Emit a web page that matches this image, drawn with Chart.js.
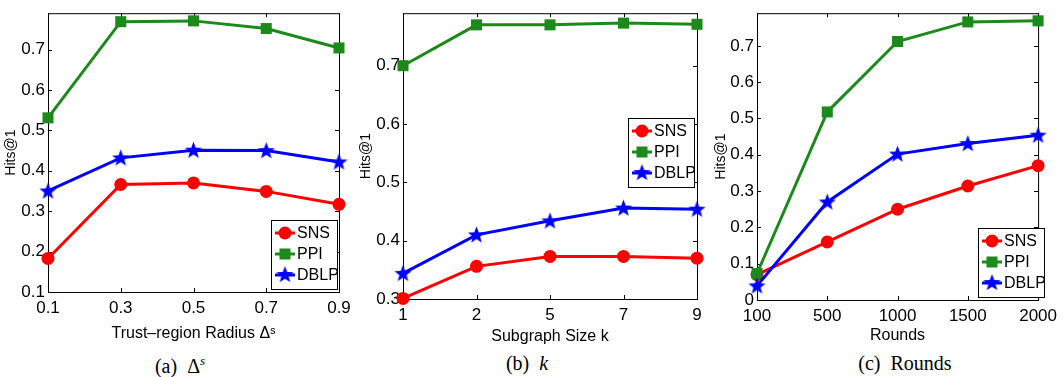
<!DOCTYPE html>
<html>
<head>
<meta charset="utf-8">
<script src="https://cdn.jsdelivr.net/npm/chart.js@4/dist/chart.umd.min.js"></script>
<style>
  body { margin: 0; background: #fff; width: 1063px; height: 377px; position: relative; overflow: hidden; }
  canvas { position: absolute; top: 0; }
  .cap { position: absolute; font-family: 'Liberation Serif', 'Times New Roman', serif; font-size: 20px; color: #000;
         transform: translateX(-50%); white-space: nowrap; }
  .cap i { font-style: italic; }
</style>
</head>
<body>
<canvas id="chartA" width="360" height="350" style="left:0"></canvas>
<canvas id="chartB" width="355" height="350" style="left:355px"></canvas>
<canvas id="chartC" width="353" height="350" style="left:710px"></canvas>
<div class="cap" style="left:180px;top:353px">(a)&nbsp; &Delta;<sup style="font-size:13px"><i>s</i></sup></div>
<div class="cap" style="left:527px;top:352px">(b)&nbsp; <i>k</i></div>
<div class="cap" style="left:905px;top:352px">(c)&nbsp; Rounds</div>
<script>
// (a) trust-region radius
const radiusLabels = ['0.1', '0.3', '0.5', '0.7', '0.9'];
const radiusSNS = [0.183, 0.366, 0.370, 0.349, 0.317];
const radiusPPI = [0.531, 0.769, 0.771, 0.752, 0.704];
const radiusDBLP = [0.350, 0.432, 0.451, 0.450, 0.422];
const radiusTicks = [0.1, 0.2, 0.3, 0.4, 0.5, 0.6, 0.7];

// (b) subgraph size k
const sizeLabels = ['1', '2', '5', '7', '9'];
const sizeSNS = [0.301, 0.356, 0.373, 0.373, 0.370];
const sizePPI = [0.700, 0.770, 0.770, 0.773, 0.771];
const sizeDBLP = [0.344, 0.410, 0.434, 0.456, 0.454];
const sizeTicks = [0.3, 0.4, 0.5, 0.6, 0.7];

// (c) rounds
const roundLabels = ['100', '500', '1000', '1500', '2000'];
const roundSNS = [0.070, 0.160, 0.250, 0.314, 0.370];
const roundPPI = [0.073, 0.518, 0.712, 0.766, 0.769];
const roundDBLP = [0.039, 0.270, 0.402, 0.431, 0.454];
const roundTicks = [0, 0.1, 0.2, 0.3, 0.4, 0.5, 0.6, 0.7];

const RED = '#ff0000';
const GREEN = '#1b8a1b';
const BLUE = '#0000ff';
const FONT = "'Liberation Sans', Arial, sans-serif";
const CANVAS_H = 350;

// filled five point star used as marker
function makeStar(color) {
  const c = document.createElement('canvas');
  c.width = 19; c.height = 19;
  const g = c.getContext('2d');
  g.beginPath();
  for (let i = 0; i < 10; i++) {
    const r = i % 2 === 0 ? 9 : 3.8;
    const a = -Math.PI / 2 + i * Math.PI / 5;
    const px = 9.5 + r * Math.cos(a), py = 10 + r * Math.sin(a);
    if (i === 0) g.moveTo(px, py); else g.lineTo(px, py);
  }
  g.closePath();
  g.fillStyle = color;
  g.fill();
  return c;
}
const starImg = makeStar(BLUE);

function series(label, data, color, style, radius, order) {
  return {
    label: label, data: data, order: order,
    borderColor: color, backgroundColor: color,
    borderWidth: 3, tension: 0, clip: false,
    pointStyle: style, pointRadius: radius,
    pointBorderWidth: 0, pointBackgroundColor: color
  };
}

// axes box with inward ticks, like MATLAB
const framePlugin = {
  id: 'frame',
  beforeDatasetsDraw(chart) {
    const { ctx, chartArea: a, scales } = chart;
    ctx.save();
    ctx.strokeStyle = '#000';
    ctx.lineWidth = 1;
    ctx.strokeRect(a.left + 0.5, a.top + 0.5, a.right - a.left, a.bottom - a.top);
    ctx.beginPath();
    scales.y.ticks.forEach(t => {
      const y = Math.round(scales.y.getPixelForValue(t.value)) + 0.5;
      ctx.moveTo(a.left, y); ctx.lineTo(a.left + 4, y);
      ctx.moveTo(a.right, y); ctx.lineTo(a.right - 4, y);
    });
    scales.x.ticks.forEach((t, i) => {
      const x = Math.round(scales.x.getPixelForTick(i)) + 0.5;
      ctx.moveTo(x, a.bottom); ctx.lineTo(x, a.bottom - 4);
      ctx.moveTo(x, a.top); ctx.lineTo(x, a.top + 4);
    });
    ctx.stroke();
    ctx.restore();
  }
};

// legend box drawn inside the plot
const boxLegend = {
  id: 'boxLegend',
  afterDraw(chart, args, opts) {
    const { ctx } = chart;
    const x = opts.x, y = opts.y, w = 66, h = 69;
    ctx.save();
    ctx.fillStyle = '#fff';
    ctx.fillRect(x, y, w, h);
    ctx.strokeStyle = '#000';
    ctx.lineWidth = 1;
    ctx.strokeRect(x + 0.5, y + 0.5, w, h);
    chart.data.datasets.forEach((ds, i) => {
      const cy = y + 13 + i * 21;
      ctx.strokeStyle = ds.borderColor;
      ctx.lineWidth = 3;
      ctx.beginPath();
      ctx.moveTo(x + 4, cy); ctx.lineTo(x + 24, cy);
      ctx.stroke();
      ctx.fillStyle = ds.borderColor;
      if (ds.pointStyle === 'circle') {
        ctx.beginPath(); ctx.arc(x + 14, cy, 6.5, 0, Math.PI * 2); ctx.fill();
      } else if (ds.pointStyle === 'rect') {
        ctx.fillRect(x + 14 - 5.5, cy - 5.5, 11, 11);
      } else {
        ctx.drawImage(ds.pointStyle, x + 14 - 9.5, cy - 10);
      }
      ctx.fillStyle = '#000';
      ctx.font = '16px ' + FONT;
      ctx.textBaseline = 'middle';
      ctx.fillText(ds.label, x + 26, cy + 1);
    });
    ctx.restore();
  }
};

function makeChart(id, cfg) {
  const tickFont = { family: FONT, size: 17 };
  return new Chart(document.getElementById(id), {
    type: 'line',
    data: {
      labels: cfg.labels,
      datasets: [
        series('SNS', cfg.sns, RED, 'circle', 6.5, 2),
        series('PPI', cfg.ppi, GREEN, 'rect', 7.8, 1),
        series('DBLP', cfg.dblp, BLUE, starImg, 9, 0)
      ]
    },
    options: {
      responsive: false,
      animation: false,
      layout: { padding: { top: 6, right: cfg.padRight, left: 0, bottom: 0 } },
      plugins: {
        legend: { display: false },
        tooltip: { enabled: false },
        boxLegend: { x: cfg.legendX, y: cfg.legendY }
      },
      scales: {
        x: {
          offset: false,
          grid: { display: false, drawTicks: false },
          border: { display: false },
          ticks: { font: tickFont, color: '#000', padding: 6, maxRotation: 0, autoSkip: false },
          title: { display: true, text: cfg.xTitle, color: '#000', font: { family: FONT, size: 16 },
                   padding: { top: 0, bottom: cfg.xTitlePad } },
          afterFit: s => { s.height = CANVAS_H - cfg.bottom; }
        },
        y: {
          min: cfg.yMin, max: 0.79,
          grid: { display: false, drawTicks: false },
          border: { display: false },
          afterBuildTicks: s => { s.ticks = cfg.yTicks.map(v => ({ value: v })); },
          ticks: { font: tickFont, color: '#000', padding: 3,
                   callback: v => (v === 0 ? '0' : v.toFixed(1)) },
          title: { display: true, text: 'Hits@1', color: '#000', font: { family: FONT, size: 14 },
                   padding: { top: 3, bottom: 0 } },
          afterFit: s => { s.width = cfg.yAxisW; }
        }
      }
    },
    plugins: [framePlugin, boxLegend]
  });
}

makeChart('chartA', {
  labels: radiusLabels, sns: radiusSNS, ppi: radiusPPI, dblp: radiusDBLP,
  yTicks: radiusTicks, yMin: 0.1, xTitle: 'Trust\u2013region Radius \u0394\u02e2',
  yAxisW: 48, padRight: 21, bottom: 292, xTitlePad: 7, legendX: 271, legendY: 220
});
makeChart('chartB', {
  labels: sizeLabels, sns: sizeSNS, ppi: sizePPI, dblp: sizeDBLP,
  yTicks: sizeTicks, yMin: 0.3, xTitle: 'Subgraph Size k',
  yAxisW: 48, padRight: 13, bottom: 299, xTitlePad: 4, legendX: 273, legendY: 118
});
makeChart('chartC', {
  labels: roundLabels, sns: roundSNS, ppi: roundPPI, dblp: roundDBLP,
  yTicks: roundTicks, yMin: 0, xTitle: 'Rounds',
  yAxisW: 47, padRight: 18, bottom: 300, xTitlePad: 5, legendX: 268, legendY: 228
});
</script>
</body>
</html>
